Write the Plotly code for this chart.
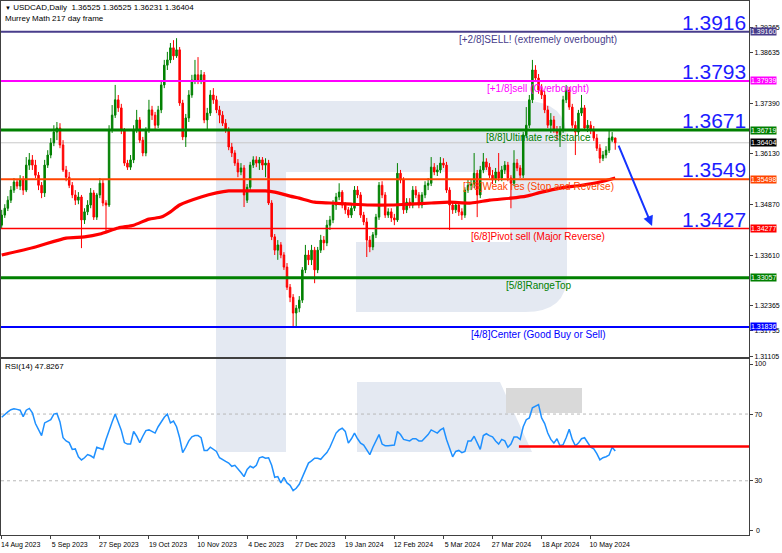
import pandas as pd
import plotly.graph_objects as go

# ---------------- data ----------------
opens = [
1.3436, 1.3461, 1.3478, 1.3498, 1.3523, 1.3543, 1.3533, 1.3548, 1.3523, 1.3585,
1.3598, 1.3585, 1.3560, 1.3535, 1.3516, 1.3585, 1.3610, 1.3640, 1.3667, 1.3677,
1.3635, 1.3573, 1.3555, 1.3535, 1.3511, 1.3498, 1.3506, 1.3449, 1.3469, 1.3486,
1.3516, 1.3456, 1.3511, 1.3540, 1.3491, 1.3486, 1.3672, 1.3709, 1.3747, 1.3727,
1.3672, 1.3590, 1.3580, 1.3598, 1.3672, 1.3697, 1.3647, 1.3615, 1.3672, 1.3722,
1.3709, 1.3684, 1.3722, 1.3784, 1.3833, 1.3846, 1.3876, 1.3856, 1.3871, 1.3739,
1.3655, 1.3702, 1.3759, 1.3796, 1.3809, 1.3796, 1.3809, 1.3697, 1.3714, 1.3759,
1.3747, 1.3722, 1.3709, 1.3689, 1.3672, 1.3630, 1.3615, 1.3590, 1.3568, 1.3578,
1.3498, 1.3530, 1.3585, 1.3598, 1.3590, 1.3598, 1.3585, 1.3590, 1.3491, 1.3407,
1.3374, 1.3387, 1.3362, 1.3332, 1.3282, 1.3257, 1.3218, 1.3230, 1.3250, 1.3325,
1.3362, 1.3350, 1.3374, 1.3325, 1.3374, 1.3399, 1.3392, 1.3436, 1.3449, 1.3486,
1.3506, 1.3518, 1.3486, 1.3474, 1.3461, 1.3478, 1.3523, 1.3511, 1.3461, 1.3444,
1.3399, 1.3382, 1.3412, 1.3456, 1.3535, 1.3511, 1.3461, 1.3469, 1.3454, 1.3449,
1.3565, 1.3548, 1.3474, 1.3493, 1.3486, 1.3523, 1.3511, 1.3486, 1.3511, 1.3535,
1.3540, 1.3580, 1.3568, 1.3573, 1.3590, 1.3585, 1.3523, 1.3486, 1.3474, 1.3486,
1.3469, 1.3461, 1.3523, 1.3535, 1.3538, 1.3565, 1.3511, 1.3573, 1.3593, 1.3580,
1.3560, 1.3548, 1.3568, 1.3553, 1.3573, 1.3585, 1.3553, 1.3540, 1.3590, 1.3578,
1.3560, 1.3660, 1.3684, 1.3747, 1.3821, 1.3801, 1.3771, 1.3759, 1.3722, 1.3684,
1.3697, 1.3672, 1.3660, 1.3672, 1.3747, 1.3771, 1.3729, 1.3684, 1.3667, 1.3714,
1.3727, 1.3677, 1.3684, 1.3672, 1.3652, 1.3627, 1.3602, 1.3610, 1.3622, 1.3647,
1.36525]
highs = [
1.3474, 1.3488, 1.3508, 1.3533, 1.3553, 1.3550, 1.3560, 1.3558, 1.3605, 1.3615,
1.3610, 1.3598, 1.3568, 1.3543, 1.3598, 1.3622, 1.3652, 1.3684, 1.3692, 1.3689,
1.3647, 1.3583, 1.3568, 1.3543, 1.3523, 1.3518, 1.3511, 1.3478, 1.3498, 1.3528,
1.3523, 1.3516, 1.3553, 1.3548, 1.3498, 1.3684, 1.3734, 1.3784, 1.3759, 1.3737,
1.3677, 1.3598, 1.3610, 1.3684, 1.3722, 1.3704, 1.3655, 1.3679, 1.3747, 1.3732,
1.3717, 1.3732, 1.3796, 1.3846, 1.3866, 1.3888, 1.3895, 1.3900, 1.3878, 1.3747,
1.3712, 1.3771, 1.3809, 1.3846, 1.3853, 1.3821, 1.3816, 1.3727, 1.3771, 1.3776,
1.3757, 1.3732, 1.3719, 1.3699, 1.3679, 1.3640, 1.3622, 1.3600, 1.3590, 1.3585,
1.3538, 1.3593, 1.3607, 1.3607, 1.3605, 1.3605, 1.3602, 1.3598, 1.3498, 1.3414,
1.3399, 1.3394, 1.3369, 1.3342, 1.3290, 1.3265, 1.3238, 1.3260, 1.3332, 1.3387,
1.3374, 1.3387, 1.3382, 1.3382, 1.3412, 1.3409, 1.3449, 1.3459, 1.3498, 1.3516,
1.3540, 1.3523, 1.3493, 1.3481, 1.3486, 1.3533, 1.3533, 1.3518, 1.3469, 1.3454,
1.3409, 1.3419, 1.3464, 1.3543, 1.3545, 1.3518, 1.3478, 1.3478, 1.3464, 1.3590,
1.3573, 1.3555, 1.3503, 1.3503, 1.3533, 1.3533, 1.3518, 1.3518, 1.3545, 1.3553,
1.3605, 1.3590, 1.3585, 1.3605, 1.3602, 1.3593, 1.3530, 1.3493, 1.3496, 1.3493,
1.3478, 1.3530, 1.3548, 1.3548, 1.3615, 1.3573, 1.3583, 1.3615, 1.3602, 1.3590,
1.3573, 1.3578, 1.3615, 1.3583, 1.3595, 1.3593, 1.3560, 1.3622, 1.3600, 1.3585,
1.3667, 1.3729, 1.3759, 1.3846, 1.3833, 1.3811, 1.3786, 1.3769, 1.3732, 1.3714,
1.3707, 1.3682, 1.3682, 1.3757, 1.3784, 1.3779, 1.3737, 1.3694, 1.3722, 1.3759,
1.3734, 1.3697, 1.3694, 1.3682, 1.3662, 1.3637, 1.3620, 1.3632, 1.3672, 1.3667,
1.36525]
lows = [
1.3429, 1.3454, 1.3471, 1.3491, 1.3516, 1.3526, 1.3523, 1.3511, 1.3518, 1.3573,
1.3573, 1.3553, 1.3523, 1.3503, 1.3506, 1.3578, 1.3602, 1.3632, 1.3647, 1.3627,
1.3568, 1.3545, 1.3528, 1.3503, 1.3486, 1.3488, 1.3379, 1.3439, 1.3461, 1.3478,
1.3449, 1.3449, 1.3503, 1.3483, 1.3419, 1.3481, 1.3665, 1.3702, 1.3717, 1.3662,
1.3583, 1.3573, 1.3573, 1.3590, 1.3665, 1.3640, 1.3607, 1.3607, 1.3665, 1.3697,
1.3672, 1.3677, 1.3714, 1.3776, 1.3821, 1.3838, 1.3846, 1.3851, 1.3732, 1.3647,
1.3630, 1.3692, 1.3752, 1.3786, 1.3786, 1.3786, 1.3689, 1.3672, 1.3707, 1.3737,
1.3714, 1.3689, 1.3682, 1.3665, 1.3622, 1.3605, 1.3583, 1.3555, 1.3560, 1.3481,
1.3491, 1.3523, 1.3578, 1.3580, 1.3573, 1.3573, 1.3555, 1.3486, 1.3399, 1.3362,
1.3350, 1.3354, 1.3325, 1.3275, 1.3245, 1.3183, 1.3183, 1.3220, 1.3243, 1.3317,
1.3337, 1.3337, 1.3292, 1.3317, 1.3367, 1.3374, 1.3384, 1.3424, 1.3441, 1.3474,
1.3498, 1.3478, 1.3464, 1.3454, 1.3454, 1.3471, 1.3503, 1.3454, 1.3436, 1.3357,
1.3369, 1.3374, 1.3404, 1.3449, 1.3503, 1.3454, 1.3454, 1.3444, 1.3436, 1.3444,
1.3540, 1.3464, 1.3466, 1.3478, 1.3478, 1.3503, 1.3478, 1.3478, 1.3503, 1.3523,
1.3533, 1.3560, 1.3558, 1.3565, 1.3578, 1.3516, 1.3424, 1.3464, 1.3466, 1.3459,
1.3449, 1.3454, 1.3516, 1.3523, 1.3528, 1.3456, 1.3503, 1.3565, 1.3573, 1.3553,
1.3538, 1.3540, 1.3545, 1.3545, 1.3563, 1.3545, 1.3478, 1.3533, 1.3570, 1.3553,
1.3553, 1.3652, 1.3677, 1.3739, 1.3791, 1.3762, 1.3749, 1.3714, 1.3677, 1.3665,
1.3665, 1.3647, 1.3630, 1.3665, 1.3739, 1.3722, 1.3677, 1.3610, 1.3660, 1.3707,
1.3670, 1.3667, 1.3662, 1.3645, 1.3620, 1.3590, 1.3595, 1.3602, 1.3615, 1.3642,
1.36231]
closes = [
1.3461, 1.3478, 1.3498, 1.3523, 1.3543, 1.3533, 1.3548, 1.3523, 1.3585, 1.3598,
1.3585, 1.3560, 1.3535, 1.3516, 1.3585, 1.3610, 1.3640, 1.3667, 1.3677, 1.3635,
1.3573, 1.3555, 1.3535, 1.3511, 1.3498, 1.3506, 1.3449, 1.3469, 1.3486, 1.3516,
1.3456, 1.3511, 1.3540, 1.3491, 1.3486, 1.3672, 1.3709, 1.3747, 1.3727, 1.3672,
1.3590, 1.3580, 1.3598, 1.3672, 1.3697, 1.3647, 1.3615, 1.3672, 1.3722, 1.3709,
1.3684, 1.3722, 1.3784, 1.3833, 1.3846, 1.3876, 1.3856, 1.3871, 1.3739, 1.3655,
1.3702, 1.3759, 1.3796, 1.3809, 1.3796, 1.3809, 1.3697, 1.3714, 1.3759, 1.3747,
1.3722, 1.3709, 1.3689, 1.3672, 1.3630, 1.3615, 1.3590, 1.3568, 1.3578, 1.3511,
1.3530, 1.3585, 1.3598, 1.3590, 1.3598, 1.3585, 1.3590, 1.3491, 1.3407, 1.3374,
1.3387, 1.3362, 1.3332, 1.3282, 1.3257, 1.3218, 1.3230, 1.3250, 1.3325, 1.3362,
1.3350, 1.3374, 1.3325, 1.3374, 1.3399, 1.3392, 1.3436, 1.3449, 1.3486, 1.3506,
1.3518, 1.3486, 1.3474, 1.3461, 1.3478, 1.3523, 1.3511, 1.3461, 1.3444, 1.3399,
1.3382, 1.3412, 1.3456, 1.3535, 1.3511, 1.3461, 1.3469, 1.3454, 1.3449, 1.3565,
1.3548, 1.3474, 1.3493, 1.3486, 1.3523, 1.3511, 1.3486, 1.3511, 1.3535, 1.3540,
1.3580, 1.3568, 1.3573, 1.3590, 1.3585, 1.3523, 1.3486, 1.3474, 1.3486, 1.3469,
1.3461, 1.3523, 1.3535, 1.3538, 1.3565, 1.3511, 1.3573, 1.3593, 1.3580, 1.3560,
1.3548, 1.3568, 1.3553, 1.3573, 1.3585, 1.3553, 1.3540, 1.3590, 1.3578, 1.3560,
1.3660, 1.3684, 1.3747, 1.3821, 1.3801, 1.3771, 1.3759, 1.3722, 1.3684, 1.3697,
1.3672, 1.3665, 1.3672, 1.3747, 1.3771, 1.3729, 1.3684, 1.3667, 1.3714, 1.3727,
1.3677, 1.3684, 1.3672, 1.3652, 1.3627, 1.3602, 1.3610, 1.3622, 1.3652, 1.3655,
1.36404]
rsi = [
68.1, 70.0, 71.3, 72.6, 73.2, 72.8, 72.3, 68.5, 72.3, 73.4,
70.8, 64.3, 60.5, 57.1, 64.7, 65.8, 66.6, 70.0, 70.4, 65.3,
55.8, 53.9, 52.9, 48.8, 49.1, 44.4, 42.5, 43.8, 45.7, 45.0,
43.8, 50.1, 49.5, 48.8, 54.8, 60.5, 65.3, 70.0, 64.7, 60.1,
52.9, 52.0, 52.0, 59.6, 56.7, 52.9, 56.7, 60.1, 60.5, 59.6,
58.6, 62.4, 65.3, 68.1, 70.0, 64.7, 65.8, 62.4, 55.8, 46.9,
50.1, 53.9, 56.3, 57.1, 57.1, 55.8, 48.2, 48.2, 50.1, 49.1,
47.6, 43.8, 42.5, 41.6, 40.6, 38.7, 39.3, 37.4, 35.0, 32.5,
36.8, 38.7, 37.8, 39.3, 43.8, 44.4, 43.5, 43.8, 39.3, 32.1,
32.5, 28.7, 32.1, 28.7, 27.3, 24.1, 25.5, 27.9, 32.1, 37.4,
40.6, 41.9, 43.5, 43.5, 42.9, 45.0, 46.9, 50.1, 54.8, 58.6,
60.5, 61.5, 59.6, 52.6, 55.2, 58.6, 55.2, 52.6, 51.4, 48.8,
45.7, 50.1, 53.9, 57.7, 52.0, 51.0, 51.0, 51.0, 51.4, 59.6,
57.7, 54.8, 54.5, 53.9, 55.2, 55.2, 53.9, 53.9, 55.8, 57.7,
60.5, 59.6, 58.6, 60.5, 61.5, 54.8, 49.1, 44.4, 47.6, 48.2,
46.9, 47.6, 53.9, 53.9, 56.7, 52.9, 48.8, 57.1, 58.2, 57.1,
56.3, 53.9, 52.0, 54.8, 53.9, 50.1, 52.0, 56.3, 56.3, 54.8,
62.4, 66.6, 67.7, 73.8, 74.7, 75.7, 67.7, 64.3, 58.6, 54.8,
52.6, 55.2, 51.0, 51.6, 55.8, 60.9, 54.8, 51.0, 52.6, 55.2,
55.8, 52.9, 50.1, 49.1, 46.3, 42.5, 43.8, 44.4, 45.4, 50.1,
47.8]
ma_idx = [0, 11, 21, 27, 32, 38, 43, 48, 52, 55, 58, 65, 70, 74, 81, 86, 89, 94,
          97, 102, 107, 114, 120, 127, 133, 140, 146, 153, 159, 166, 171, 176,
          182, 189, 195, 200]
ma_vals = [1.3362, 1.3382, 1.3404, 1.3407, 1.3414, 1.3429, 1.3436, 1.3451, 1.3456,
           1.3469, 1.3486, 1.3506, 1.3516, 1.3521, 1.3521, 1.3521, 1.3518, 1.3508,
           1.3503, 1.3493, 1.3491, 1.3488, 1.3486, 1.3486, 1.3488, 1.3491, 1.3493,
           1.3491, 1.3498, 1.3503, 1.3508, 1.3518, 1.3528, 1.3535, 1.3543, 1.3553]

level_values = [1.39160, 1.37939, 1.36719, 1.35498, 1.34277, 1.33057, 1.31836]
level_names = ["[+2/8]SELL! (extremely overbought)", "[+1/8]sell (Overbought)",
               "[8/8]Ultimate resistance", "[7/8]Weak res (Stop and Reverse)",
               "[6/8]Pivot sell (Major Reverse)", "[5/8]RangeTop",
               "[4/8]Center (Good Buy or Sell)"]
level_colors = ["#483d8b", "#ff00ff", "#008000", "#ff4500", "#ff0000", "#008000", "#0000ff"]
level_widths = [2, 2, 3, 2, 1.5, 3, 2]
big_labels = ["1.3916", "1.3793", "1.3671", "1.3549", "1.3427"]
price_ticks = [1.39265, 1.38635, 1.37390, 1.36130, 1.34870, 1.33610, 1.32365, 1.31735, 1.31105]
rsi_ticks = [0, 30, 70, 100]
date_labels = ["14 Aug 2023", "5 Sep 2023", "27 Sep 2023", "19 Oct 2023", "10 Nov 2023",
               "4 Dec 2023", "27 Dec 2023", "19 Jan 2024", "12 Feb 2024", "5 Mar 2024",
               "27 Mar 2024", "18 Apr 2024", "10 May 2024"]
holidays = ["2023-12-25", "2024-01-01"]
current_price = 1.36404
header_ohlc = "1.36525 1.36525 1.36231 1.36404"
rsi_last = "47.8267"
rsi_signal = 50.5

# ---------------- geometry ----------------
W, H = 782, 553
ML, MR, MT, MB = 1, 33, 1, 18
PW = W - ML - MR
PH = H - MT - MB
FONT = "Liberation Sans, Arial, sans-serif"

def X(px):
    return (px - ML) / PW

def Y(py):
    return (H - MB - py) / PH

dates = pd.bdate_range("2023-08-14", periods=len(closes), freq="C", holidays=holidays)
xs = list(range(len(closes)))
tick_pos = [dates.get_loc(pd.to_datetime(d, format="%d %b %Y")) for d in date_labels]

BAR_PX, FIRST_PX = 3.0677, 1.7
x_range = [(ML - FIRST_PX) / BAR_PX, (ML + PW - FIRST_PX) / BAR_PX]
main_range = [1.31089, 1.39922]
rsi_range = [-2.5, 103]

fig = go.Figure()

fig.add_trace(go.Candlestick(
    x=xs, open=opens, high=highs, low=lows, close=closes,
    increasing=dict(line=dict(color="#008000", width=1), fillcolor="#008000"),
    decreasing=dict(line=dict(color="#ff0000", width=1), fillcolor="#ff0000"),
    whiskerwidth=0, xaxis="x", yaxis="y", showlegend=False, hoverinfo="skip"))

fig.add_trace(go.Scatter(
    x=ma_idx, y=ma_vals, mode="lines", line=dict(color="#ff0000", width=3.2, shape="spline", smoothing=0.6),
    xaxis="x", yaxis="y", showlegend=False, hoverinfo="skip"))

fig.add_trace(go.Scatter(
    x=xs, y=rsi, mode="lines", line=dict(color="#1e90ff", width=1.5),
    xaxis="x2", yaxis="y2", showlegend=False, hoverinfo="skip"))

shapes = []
WM = "#e4e9f2"
def rect(x0, y0, x1, y1, color=WM):
    return dict(type="rect", xref="paper", yref="paper", x0=X(x0), x1=X(x1),
                y0=Y(y0), y1=Y(y1), fillcolor=color, line=dict(width=0), layer="below")

shapes += [rect(216, 101, 286, 452), rect(216, 101, 520, 172), rect(356, 242, 520, 312)]
bowl = (f"M {X(510)},{Y(101)} L {X(525)},{Y(101)} Q {X(567)},{Y(101)} {X(567)},{Y(140)} "
        f"L {X(567)},{Y(275)} Q {X(567)},{Y(312)} {X(525)},{Y(312)} L {X(510)},{Y(312)} Z")
shapes.append(dict(type="path", xref="paper", yref="paper", path=bowl,
                   fillcolor=WM, line=dict(width=0), layer="below"))
leg = (f"M {X(357)},{Y(382)} L {X(500)},{Y(382)} L {X(532)},{Y(452)} L {X(357)},{Y(452)} Z")
shapes.append(dict(type="path", xref="paper", yref="paper", path=leg,
                   fillcolor=WM, line=dict(width=0), layer="below"))
shapes.append(rect(506, 388, 582, 413, "#d9d9d9"))

# RSI levels
for lv in (30, 70):
    shapes.append(dict(type="line", xref="x2", yref="y2", x0=x_range[0], x1=x_range[1], y0=lv, y1=lv,
                       line=dict(color="#b8b8b8", width=1, dash="dot"), layer="below"))
shapes.append(dict(type="line", xref="x2", yref="y2", x0=168.6, x1=x_range[1], y0=rsi_signal, y1=rsi_signal,
                   line=dict(color="#ff0000", width=2.5), layer="above"))

# current price line
shapes.append(dict(type="line", xref="x", yref="y", x0=x_range[0], x1=x_range[1],
                   y0=current_price, y1=current_price, line=dict(color="#c8c8c8", width=1), layer="below"))
# Murrey levels
for v, c, w in zip(level_values, level_colors, level_widths):
    shapes.append(dict(type="line", xref="x", yref="y", x0=x_range[0], x1=x_range[1], y0=v, y1=v,
                       line=dict(color=c, width=w), layer="above"))

ann = []
for v, n, c in zip(level_values, level_names, level_colors):
    ann.append(dict(xref="paper", yref="y", x=X(538), y=v, text=n, showarrow=False,
                    xanchor="center", yanchor="top", yshift=0,
                    font=dict(family=FONT, size=10, color=c)))
for v, t in zip(level_values, big_labels):
    ann.append(dict(xref="paper", yref="y", x=X(748), y=v, text=t, showarrow=False,
                    xanchor="right", yanchor="bottom", yshift=-4,
                    font=dict(family=FONT, size=21, color="#1c1cff")))
for v, c in zip(level_values + [current_price], level_colors + ["#000000"]):
    ann.append(dict(xref="paper", yref="y", x=1, y=v, text=f"{v:.5f}", showarrow=False,
                    xanchor="left", yanchor="middle", xshift=1, bgcolor=c, borderpad=0,
                    font=dict(family=FONT, size=7, color="#ffffff")))
# RSI zero label (kept as text next to its tick)
ann.append(dict(xref="paper", yref="y2", x=1, y=rsi_ticks[0], text=str(rsi_ticks[0]), showarrow=False,
                xanchor="left", yanchor="middle", xshift=5,
                font=dict(family=FONT, size=7, color="#000000")))
# arrow
ann.append(dict(xref="x", yref="y", axref="x", ayref="y", x=212.0, y=1.3434, ax=200.9, ay=1.3637,
                text="", showarrow=True, arrowhead=2, arrowsize=1, arrowwidth=2, arrowcolor="#1433ff"))
# headers
ann.append(dict(xref="paper", yref="paper", x=X(3), y=Y(7), xanchor="left", yanchor="middle",
                text=f"<span style='font-size:6px'>▼</span> USDCAD,Daily  {header_ohlc}", showarrow=False,
                font=dict(family=FONT, size=8, color="#000000")))
ann.append(dict(xref="paper", yref="paper", x=X(3), y=Y(19), xanchor="left", yanchor="middle",
                text="Murrey Math 217 day frame", showarrow=False,
                font=dict(family=FONT, size=8, color="#000000")))
ann.append(dict(xref="paper", yref="paper", x=X(3), y=Y(366), xanchor="left", yanchor="middle",
                text=f"RSI(14) {rsi_last}", showarrow=False,
                font=dict(family=FONT, size=8, color="#000000")))

axis_common = dict(showgrid=False, zeroline=False, showline=True, mirror=True,
                   linecolor="#404040", linewidth=1)

fig.update_layout(
    width=W, height=H, margin=dict(l=ML, r=MR, t=MT, b=MB),
    paper_bgcolor="#ffffff", plot_bgcolor="#ffffff", showlegend=False, hovermode=False,
    font=dict(family=FONT, size=7, color="#000000"),
    xaxis=dict(domain=[0, 1], anchor="y", range=x_range, showticklabels=False, ticks="",
               rangeslider=dict(visible=False), **axis_common),
    yaxis=dict(domain=[Y(357), 1], anchor="x", range=main_range, side="right",
               tickvals=price_ticks, ticktext=[f"{t:.5f}" for t in price_ticks],
               ticks="outside", ticklen=3, tickcolor="#404040",
               tickfont=dict(family=FONT, size=7), **axis_common),
    xaxis2=dict(domain=[0, 1], anchor="y2", matches="x", range=x_range,
                tickvals=tick_pos, ticktext=date_labels, ticks="outside", ticklen=3,
                tickcolor="#404040", ticklabelshift=19,
                tickfont=dict(family=FONT, size=7), **axis_common),
    yaxis2=dict(domain=[0, Y(359)], anchor="x2", range=rsi_range, side="right",
                tickvals=rsi_ticks, ticktext=[""] + [str(t) for t in rsi_ticks[1:]],
                ticks="outside", ticklen=3, tickcolor="#404040",
                tickfont=dict(family=FONT, size=7), **axis_common),
    shapes=shapes, annotations=ann,
)

fig.write_html("out.html", config={"displayModeBar": False},
               post_script="document.body.style.margin='0';document.body.style.overflow='hidden';")
